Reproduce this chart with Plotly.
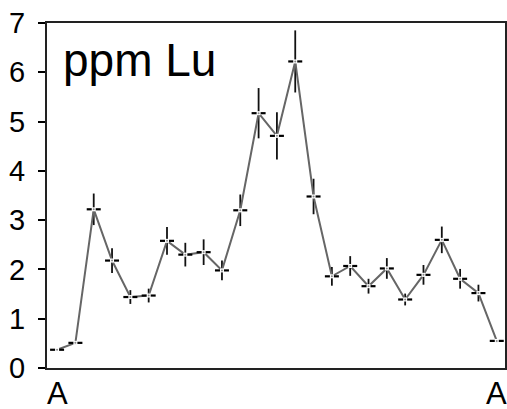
import plotly.graph_objects as go

sample_index = list(range(25))
lu_ppm = [0.37, 0.51, 3.22, 2.18, 1.44, 1.47, 2.58, 2.30, 2.35, 1.98,
          3.20, 5.17, 4.71, 6.22, 3.48, 1.86, 2.07, 1.66, 2.02, 1.39,
          1.89, 2.60, 1.81, 1.52, 0.55]
lu_err = [0.02, 0.03, 0.32, 0.25, 0.14, 0.14, 0.28, 0.24, 0.26, 0.20,
          0.32, 0.51, 0.48, 0.63, 0.36, 0.19, 0.20, 0.15, 0.21, 0.12,
          0.20, 0.27, 0.20, 0.17, 0.03]
x_tick_vals = [0, 24]
x_tick_text = ["A", "A"]
y_tick_vals = [0, 1, 2, 3, 4, 5, 6, 7]

fig = go.Figure()
fig.add_trace(go.Scatter(
    x=sample_index, y=lu_ppm, mode="lines+markers",
    line=dict(color="#666666", width=2),
    marker=dict(symbol="line-ew", size=10, line=dict(color="black", width=2.2)),
    error_y=dict(type="data", array=lu_err, visible=True, color="#111111",
                 thickness=1.8, width=0),
    hoverinfo="skip", showlegend=False))
fig.add_trace(go.Scatter(
    x=sample_index, y=lu_ppm, mode="markers",
    marker=dict(symbol="square", size=4, color="white", line=dict(width=0)),
    hoverinfo="skip", showlegend=False))
fig.add_trace(go.Scatter(
    x=sample_index, y=lu_ppm, mode="markers",
    marker=dict(symbol="circle", size=2, color="#888888", line=dict(width=0)),
    hoverinfo="skip", showlegend=False))

fig.add_annotation(text="ppm Lu", xref="paper", yref="paper", x=0.03, y=0.975,
                   xanchor="left", yanchor="top", showarrow=False,
                   font=dict(family="Liberation Sans, Arial", size=46, color="black"))

# category labels under the x axis (drawn as annotations so the edge one is kept)
for xv, label in zip(x_tick_vals, x_tick_text):
    fig.add_annotation(text=label, xref="x", yref="paper", x=xv, y=-0.074,
                       xanchor="center", yanchor="middle", showarrow=False,
                       font=dict(family="Liberation Sans, Arial", size=31, color="black"))

fig.update_layout(
    width=507, height=409,
    margin=dict(l=47, r=2, t=23, b=41),
    paper_bgcolor="white", plot_bgcolor="white",
    font=dict(family="Liberation Sans, Arial", color="black"),
)
fig.update_xaxes(range=[-0.55, 24.45], tickvals=x_tick_vals, showticklabels=False,
                 ticks="", showgrid=False, zeroline=False, showline=True,
                 linecolor="#222222", linewidth=2, mirror=True, automargin=False)
fig.update_yaxes(range=[0, 7], tickvals=y_tick_vals, ticks="outside", ticklen=7,
                 tickwidth=1.6, tickcolor="black", showgrid=False, zeroline=False,
                 showline=True, linecolor="#222222", linewidth=2, mirror=True,
                 automargin=False, tickfont=dict(size=29), ticklabelstandoff=7)

fig.write_html("out.html", config={"displayModeBar": False},
               post_script="document.body.style.margin='0';document.body.style.overflow='hidden';")
